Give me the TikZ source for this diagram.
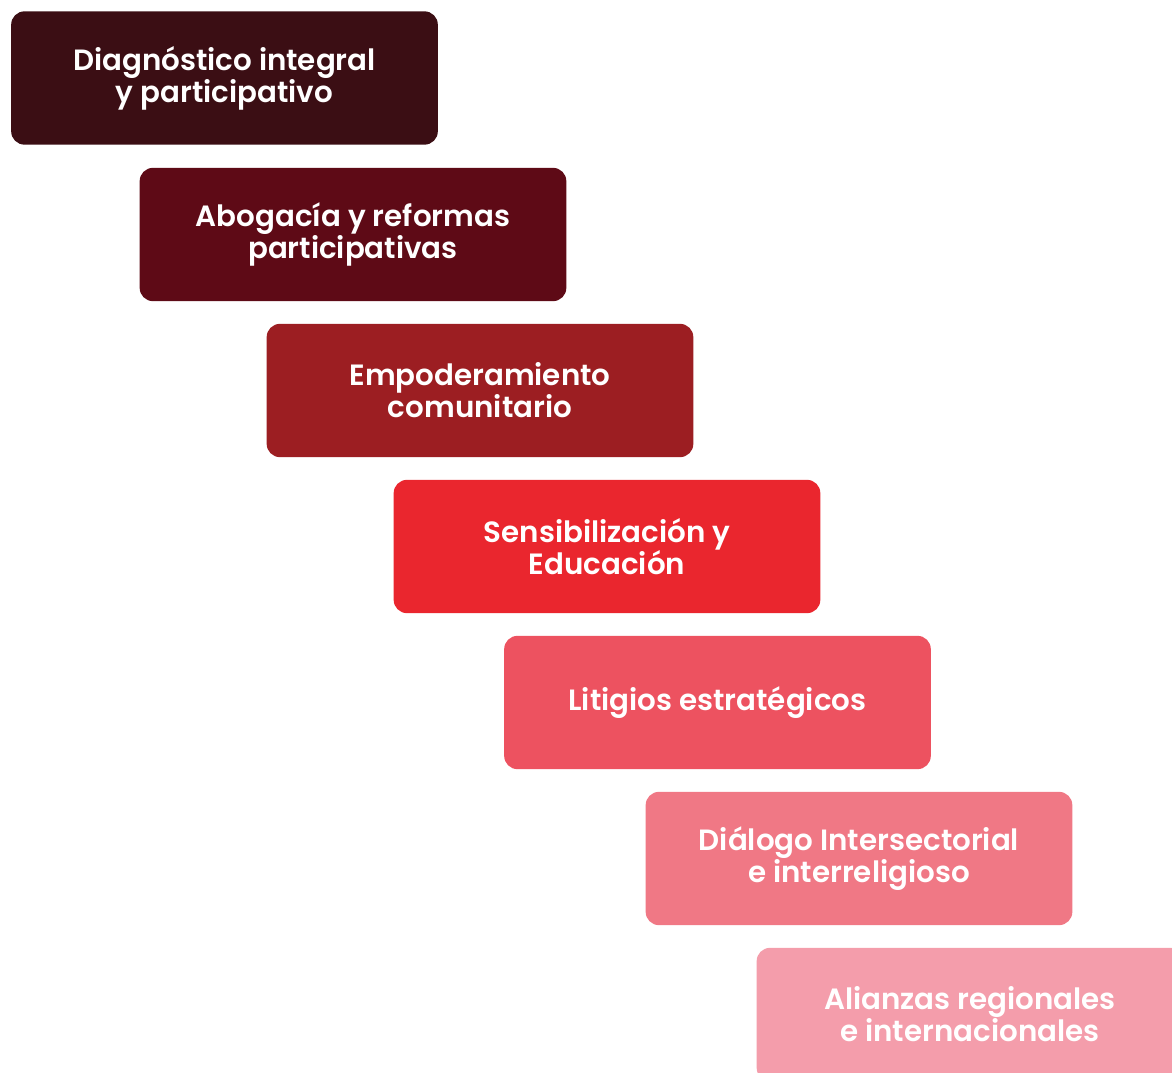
\documentclass[tikz,border=0pt]{standalone}
\usepackage{fontspec}
\setmainfont{Poppins}[BoldFont={Poppins SemiBold}]
\definecolor{stepA}{HTML}{3B0E14}
\definecolor{stepB}{HTML}{5E0A16}
\definecolor{stepC}{HTML}{9C1E22}
\definecolor{stepD}{HTML}{EA262E}
\definecolor{stepE}{HTML}{ED5260}
\definecolor{stepF}{HTML}{F07885}
\definecolor{stepG}{HTML}{F49DAB}
\begin{document}
\begin{tikzpicture}[
        x=0.75pt, y=-0.75pt,
        font=\bfseries\fontsize{22}{24}\selectfont
    ]
    \tikzset{
        stepbox/.style = {rectangle, rounded corners=10pt, draw=none, align=center, text=white,
            minimum width=320pt, minimum height=100pt, inner sep=0pt}
    }
    \useasboundingbox (0,0) rectangle (1172,1073);
    \clip (0,0) rectangle (1172,1073);
    \node[stepbox, fill=stepA] (diag) at (224.5,78) {Diagnóstico integral\\y participativo};
    \node[stepbox, fill=stepB] (abog) at (353,234.5) {Abogacía y reformas\\participativas};
    \node[stepbox, fill=stepC] (empo) at (480,390.5) {Empoderamiento\\comunitario};
    \node[stepbox, fill=stepD] (sens) at (607,546.5) {Sensibilización y\\Educación};
    \node[stepbox, fill=stepE] (liti) at (717.5,702.5) {Litigios estratégicos};
    \node[stepbox, fill=stepF] (dial) at (859,858.5) {Diálogo Intersectorial\\e interreligioso};
    \node[stepbox, fill=stepG] (alia) at (970,1014.5) {Alianzas regionales\\e internacionales};
\end{tikzpicture}
\end{document}
